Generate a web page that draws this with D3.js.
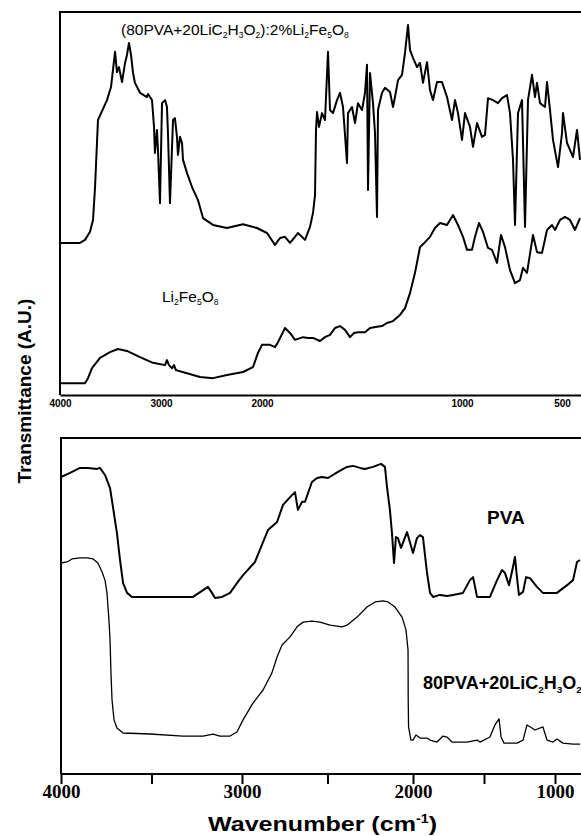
<!DOCTYPE html>
<html>
<head>
<meta charset="utf-8">
<script src="https://cdn.jsdelivr.net/npm/d3@7"></script>
<style>
  body { margin: 0; background: #fff; }
  svg { display: block; }
</style>
</head>
<body>
<svg id="chart" width="581" height="836"></svg>
<script>
// wavenumber (cm-1), transmittance (arbitrary units)
const compositeSpectrum = [
  [4000,39.7],[3802,39.7],[3752,40.5],[3703,42.6],[3673,45.7],[3653,54.3],[3624,71.8],[3535,77.0],
  [3495,80.4],[3455,89.6],[3436,84.3],[3416,85.6],[3386,81.7],[3356,86.7],[3337,88.8],[3317,91.9],
  [3297,88.8],[3277,84.1],[3258,81.5],[3208,78.9],[3139,77.8],[3129,78.6],[3089,77.0],[3069,70.0],
  [3060,63.2],[3040,69.2],[3030,64.0],[3010,50.1],[2990,76.2],[2960,77.0],[2941,75.2],[2931,68.4],
  [2911,50.1],[2881,71.8],[2862,72.3],[2842,67.4],[2832,62.7],[2812,67.4],[2792,65.8],[2782,61.4],
  [2743,58.0],[2693,54.3],[2634,50.9],[2584,46.2],[2485,44.4],[2347,43.6],[2188,44.6],[2050,43.6],
  [1975,42.3],[1935,39.2],[1910,41.0],[1885,41.3],[1860,39.7],[1835,41.3],[1820,42.3],[1785,40.5],
  [1760,43.9],[1745,47.5],[1735,52.2],[1730,69.2],[1725,73.9],[1715,70.0],[1700,73.6],[1685,71.8],
  [1670,89.6],[1660,74.4],[1645,73.6],[1625,77.0],[1610,78.9],[1595,75.2],[1575,60.6],[1570,73.6],
  [1550,75.2],[1535,71.0],[1520,76.2],[1500,74.4],[1485,78.9],[1475,86.2],[1470,53.5],[1460,84.1],
  [1445,76.2],[1435,68.4],[1425,46.5],[1420,74.4],[1400,78.9],[1385,80.2],[1360,79.1],[1345,75.2],
  [1335,77.8],[1320,82.2],[1300,83.6],[1285,89.3],[1270,96.6],[1260,90.1],[1245,88.0],[1225,85.6],
  [1210,86.7],[1195,81.5],[1175,86.9],[1160,79.6],[1145,77.0],[1125,81.7],[1100,81.7],[1075,77.8],
  [1050,71.8],[1035,77.0],[1020,73.6],[1000,66.6],[985,73.6],[960,70.0],[945,64.8],[925,71.0],
  [900,67.4],[885,67.9],[870,77.5],[845,77.0],[820,76.2],[800,77.5],[775,78.3],[760,73.6],
  [745,61.4],[735,44.4],[720,73.6],[700,77.0],[685,43.9],[670,77.0],[650,83.6],[635,77.8],
  [625,81.5],[610,76.2],[585,75.2],[575,81.7],[560,74.4],[545,66.6],[520,59.5],[500,68.4],
  [495,73.6],[475,65.8],[460,64.0],[445,62.1],[425,69.2],[410,61.4]
];

const ferriteSpectrum = [
  [4000,3.1],[3752,3.1],[3723,4.4],[3683,7.0],[3604,9.7],[3505,11.2],[3426,12.0],[3337,11.5],
  [3208,9.9],[3079,8.4],[2960,7.8],[2941,9.1],[2921,7.8],[2891,7.0],[2871,7.8],[2852,6.5],
  [2743,5.7],[2614,4.7],[2485,4.4],[2347,5.2],[2188,6.0],[2089,7.3],[2040,11.0],[2000,13.1],
  [1960,13.1],[1935,12.5],[1920,13.8],[1885,17.5],[1860,16.2],[1835,14.4],[1795,15.1],[1770,14.9],
  [1745,14.9],[1710,14.1],[1685,15.1],[1660,15.7],[1635,17.5],[1610,18.0],[1585,17.0],[1560,15.1],
  [1540,16.2],[1520,16.4],[1485,16.4],[1460,17.5],[1425,17.8],[1400,18.0],[1375,18.8],[1345,19.3],
  [1310,20.9],[1285,22.7],[1260,26.6],[1235,31.9],[1210,38.6],[1185,39.9],[1160,41.3],[1135,43.6],
  [1110,44.9],[1075,44.4],[1045,47.0],[1020,44.4],[995,41.3],[975,37.9],[950,37.9],[935,41.3],
  [915,44.9],[895,42.6],[870,38.4],[850,37.9],[825,34.5],[805,41.8],[785,38.6],[760,32.6],
  [735,29.2],[710,30.0],[695,33.2],[675,31.9],[645,41.8],[625,37.3],[600,37.1],[575,43.1],
  [550,44.4],[535,43.1],[510,45.7],[485,46.5],[460,45.7],[435,43.1],[410,46.2]
];

const pvaSpectrum = [
  [4000,88.4],[3950,89.6],[3895,91.1],[3851,91.1],[3801,90.8],[3785,91.1],[3757,89.0],[3729,85.1],
  [3713,79.5],[3691,71.7],[3674,63.7],[3657,56.8],[3635,53.9],[3608,52.7],[3508,52.7],[3381,52.7],
  [3271,52.7],[3221,54.5],[3188,55.7],[3166,53.9],[3149,52.4],[3110,52.7],[3066,53.9],[3028,56.8],
  [2994,59.2],[2924,63.1],[2877,69.0],[2848,72.6],[2795,75.0],[2760,80.1],[2719,82.4],[2690,83.9],
  [2673,78.6],[2649,81.0],[2632,81.0],[2591,86.9],[2561,88.1],[2532,88.4],[2497,88.1],[2439,89.9],
  [2386,91.4],[2351,91.7],[2310,91.1],[2281,90.8],[2234,91.4],[2187,92.3],[2164,91.4],[2152,85.4],
  [2135,78.6],[2123,71.7],[2111,62.8],[2100,70.5],[2088,70.2],[2070,67.3],[2035,72.0],[2018,69.0],
  [2000,65.8],[1972,70.2],[1951,71.1],[1930,70.5],[1901,59.8],[1880,53.9],[1859,52.7],[1810,53.3],
  [1761,53.0],[1718,53.3],[1648,53.9],[1599,57.7],[1577,58.6],[1549,52.7],[1458,52.7],[1408,57.7],
  [1373,60.7],[1352,59.8],[1324,56.2],[1296,61.6],[1282,64.6],[1268,58.6],[1254,53.3],[1225,54.2],
  [1204,58.6],[1176,58.3],[1127,55.7],[1085,53.9],[986,53.9],[915,56.2],[873,57.7],[845,63.1],
  [824,63.7]
];

const blendSpectrum = [
  [4000,62.8],[3967,63.1],[3939,64.0],[3895,64.3],[3856,64.3],[3823,64.0],[3796,62.8],[3773,60.1],
  [3757,57.7],[3746,53.9],[3735,45.8],[3729,39.9],[3724,30.1],[3718,22.0],[3707,16.1],[3691,13.7],
  [3657,12.2],[3508,11.9],[3326,11.3],[3215,11.3],[3160,11.9],[3122,11.3],[3066,11.3],[3028,12.5],
  [2994,16.1],[2936,21.1],[2877,25.0],[2825,30.1],[2795,34.8],[2766,38.4],[2719,40.8],[2678,43.8],
  [2643,45.2],[2591,45.5],[2544,45.2],[2485,44.3],[2415,43.8],[2386,44.3],[2327,46.7],[2269,49.7],
  [2222,51.2],[2175,51.5],[2146,51.2],[2105,49.7],[2064,46.7],[2041,42.9],[2029,36.9],[2028,22.0],
  [2026,14.0],[2012,10.1],[2000,10.1],[1979,11.6],[1951,10.7],[1901,10.7],[1880,10.1],[1831,9.5],
  [1789,11.3],[1761,11.0],[1725,9.5],[1620,9.5],[1549,10.1],[1528,9.5],[1458,11.0],[1423,14.6],
  [1394,16.4],[1380,11.0],[1359,9.2],[1268,9.2],[1225,10.1],[1197,14.6],[1162,13.7],[1141,13.1],
  [1085,14.0],[1056,10.1],[1014,9.5],[986,10.4],[944,9.2],[873,8.9],[824,8.9]
];

const topTicks = [4000, 3000, 2000, 1000, 500];
const bottomTicks = [4000, 3500, 3000, 2500, 2000, 1500, 1000];
const bottomTickLabels = [4000, 3000, 2000, 1000];

// label pieces: [text, is subscript]
const compositeLabel = [["(80PVA+20LiC",0],["2",1],["H",0],["3",1],["O",0],["2",1],["):2%Li",0],["2",1],["Fe",0],["5",1],["O",0],["8",1]];
const ferriteLabel = [["Li",0],["2",1],["Fe",0],["5",1],["O",0],["8",1]];
const pvaLabel = [["PVA",0]];
const blendLabel = [["80PVA+20LiC",0],["2",1],["H",0],["3",1],["O",0],["2",1]];

const svg = d3.select("#chart");
const sans = "'Liberation Sans', Arial, sans-serif";
const serif = "'Liberation Serif', 'Times New Roman', serif";

// top panel: instrument scale doubles below 2000 cm-1
const xTop = d3.scaleLinear().domain([4000, 2000, 400]).range([60, 262, 582]);
const yTop = d3.scaleLinear().domain([0, 100]).range([395, 12]);

// bottom panel
const xBot = d3.scaleLinear().domain([4000, 3000, 2000, 1000]).range([61, 242, 413, 555]);
const yBot = d3.scaleLinear().domain([0, 100]).range([774, 438]);

function frame(x, y) {
  const [x0] = x.range();
  const [yb, yt] = y.range();
  svg.append("path")
    .attr("d", `M${x0},${yb} V${yt} H581`)
    .attr("fill", "none")
    .attr("stroke", "#000")
    .attr("stroke-width", 2);
}

function spectrum(data, x, y, width) {
  const line = d3.line().x(d => x(d[0])).y(d => y(d[1]));
  svg.append("path")
    .datum(data)
    .attr("d", line)
    .attr("fill", "none")
    .attr("stroke", "#000")
    .attr("stroke-width", width)
    .attr("stroke-linejoin", "round");
}

function label(parts, x, y, size, weight) {
  const t = svg.append("text")
    .attr("x", x).attr("y", y)
    .style("font-family", sans)
    .style("font-size", size + "px")
    .style("font-weight", weight);
  let shifted = false;
  parts.forEach(([s, sub]) => {
    const sp = t.append("tspan").text(s);
    if (sub && !shifted) { sp.attr("dy", size * 0.22); shifted = true; }
    if (!sub && shifted) { sp.attr("dy", -size * 0.22); shifted = false; }
    if (sub) sp.style("font-size", (size * 0.55) + "px");
  });
}

// ---- top panel ----
frame(xTop, yTop);
spectrum(compositeSpectrum, xTop, yTop, 2);
spectrum(ferriteSpectrum, xTop, yTop, 2);

const topAxis = svg.append("g")
  .attr("transform", `translate(0,${yTop.range()[0]})`)
  .call(d3.axisBottom(xTop).tickValues(topTicks).tickSize(0).tickPadding(5).tickFormat(d3.format("d")));
topAxis.select(".domain").attr("stroke-width", 2);
topAxis.selectAll("text")
  .style("font-family", sans)
  .style("font-size", "10px")
  .style("font-weight", "bold");

label(compositeLabel, 121, 35, 15.5, "normal");
label(ferriteLabel, 162, 302, 15.5, "normal");

// ---- bottom panel ----
frame(xBot, yBot);
spectrum(pvaSpectrum, xBot, yBot, 2);
spectrum(blendSpectrum, xBot, yBot, 1.3);

const botAxis = svg.append("g")
  .attr("transform", `translate(0,${yBot.range()[0]})`)
  .call(d3.axisBottom(xBot)
    .tickValues(bottomTicks)
    .tickSize(10)
    .tickPadding(1)
    .tickSizeOuter(0)
    .tickFormat(d => bottomTickLabels.includes(d) ? d : ""));
botAxis.select(".domain").attr("stroke-width", 2).attr("d", `M${xBot(4000)},0H581`);
botAxis.selectAll(".tick line").attr("stroke-width", 2);
botAxis.selectAll("text")
  .style("font-family", serif)
  .style("font-size", "19px")
  .style("font-weight", "bold");

label(pvaLabel, 487, 524, 19, "bold");
label(blendLabel, 423, 689, 18, "bold");

// axis titles
svg.append("text")
  .attr("transform", "translate(31,391) rotate(-90)")
  .attr("text-anchor", "middle")
  .style("font-family", sans)
  .style("font-size", "19px")
  .style("font-weight", "bold")
  .text("Transmittance (A.U.)");

const xTitle = svg.append("text")
  .attr("x", 208).attr("y", 831)
  .attr("textLength", 229)
  .attr("lengthAdjust", "spacingAndGlyphs")
  .style("font-family", sans)
  .style("font-size", "21px")
  .style("font-weight", "bold");
xTitle.append("tspan").text("Wavenumber (cm");
xTitle.append("tspan").attr("dy", -8).style("font-size", "12px").text("-1");
xTitle.append("tspan").attr("dy", 8).text(")");
</script>
</body>
</html>
